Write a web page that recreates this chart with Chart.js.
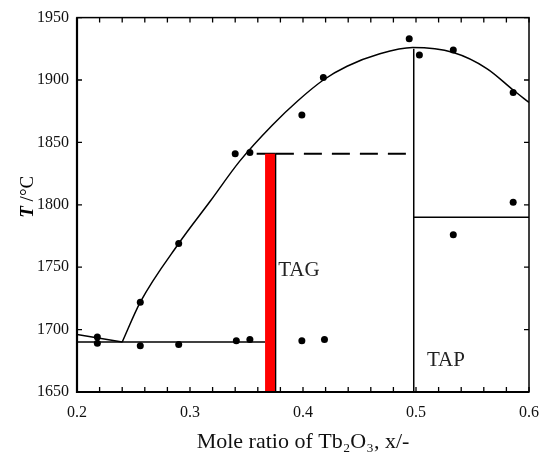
<!DOCTYPE html>
<html>
<head>
<meta charset="utf-8">
<script src="https://cdn.jsdelivr.net/npm/chart.js@4/dist/chart.umd.min.js"></script>
<style>
  html, body { margin: 0; padding: 0; background: #fff; }
  canvas { display: block; }
</style>
</head>
<body>
<canvas id="phaseChart" width="541" height="463"></canvas>
<script>
// axis ticks
const xTickValues = [0.2, 0.3, 0.4, 0.5, 0.6];
const xMinorTicks = [0.22, 0.24, 0.26, 0.28, 0.32, 0.34, 0.36, 0.38, 0.42, 0.44, 0.46, 0.48, 0.52, 0.54, 0.56, 0.58];
const yTickValues = [1650, 1700, 1750, 1800, 1850, 1900, 1950];

// measured points (mole ratio, T)
const pointX = [0.218, 0.218, 0.256, 0.256, 0.29, 0.29, 0.34, 0.353, 0.341, 0.353, 0.399, 0.418, 0.399, 0.419, 0.494, 0.503, 0.533, 0.533, 0.586, 0.586];
const pointT = [1694, 1689, 1722, 1687, 1769, 1688, 1841, 1842, 1691, 1692, 1872, 1902, 1691, 1692, 1933, 1920, 1924, 1776, 1890, 1802];

// liquidus curve
const liquidusX = [0.24, 0.256, 0.29, 0.318, 0.344, 0.373, 0.395, 0.418, 0.439, 0.468, 0.497, 0.533, 0.563, 0.586, 0.6];
const liquidusT = [1690, 1722, 1769, 1803, 1835, 1864, 1883, 1900, 1911, 1921, 1926, 1922, 1909, 1892, 1882];

// other phase boundaries
const eutecticX = [0.2, 0.24];
const eutecticT = [1696, 1690];
const solidusX = [0.2, 0.3664];
const solidusT = [1690, 1690];
const peritecticX = [0.359, 0.376];
const peritecticDashX = [0.376, 0.498];
const peritecticT = 1841;
const tapX = 0.498;
const tapTop = 1925;
const tapLineX = [0.498, 0.6];
const tapLineT = [1790, 1790];
const tagBarX = [0.3664, 0.3752];
const tagEdgeX = 0.3755;
const tMin = 1650;

const regionLabels = [
  { text: "TAG", x: 0.378, y: 1747 },
  { text: "TAP", x: 0.5097, y: 1675 }
];

function pts(xs, ys) {
  return xs.map((x, i) => ({ x: x, y: Array.isArray(ys) ? ys[i] : ys }));
}

function lineSet(data, extra) {
  return Object.assign({
    data: data,
    showLine: true,
    borderColor: "#000",
    borderWidth: 1.5,
    pointRadius: 0,
    fill: false,
    tension: 0
  }, extra || {});
}

const serif = "'Liberation Serif', 'Times New Roman', serif";

// frame, inward ticks, region labels, y title
const decorations = {
  id: "decorations",
  afterDatasetsDraw(chart) {
    const { ctx, chartArea: a, scales } = chart;
    const xs = scales.x, ys = scales.y;
    ctx.save();
    ctx.strokeStyle = "#000";
    ctx.lineWidth = 1.5;
    ctx.strokeRect(a.left, a.top, a.right - a.left, a.bottom - a.top);
    ctx.lineWidth = 2.2;
    ctx.beginPath();
    ctx.moveTo(a.left, a.top);
    ctx.lineTo(a.left, a.bottom);
    ctx.lineTo(a.right, a.bottom);
    ctx.stroke();

    ctx.lineWidth = 1.3;
    ctx.beginPath();
    xTickValues.concat(xMinorTicks).forEach(v => {
      const px = xs.getPixelForValue(v);
      ctx.moveTo(px, a.bottom); ctx.lineTo(px, a.bottom - 5);
      ctx.moveTo(px, a.top); ctx.lineTo(px, a.top + 5);
    });
    yTickValues.forEach(v => {
      const py = ys.getPixelForValue(v);
      ctx.moveTo(a.left, py); ctx.lineTo(a.left + 5, py);
      ctx.moveTo(a.right, py); ctx.lineTo(a.right - 5, py);
    });
    ctx.stroke();

    ctx.fillStyle = "#222";
    ctx.font = "21px " + serif;
    ctx.textBaseline = "middle";
    ctx.textAlign = "left";
    regionLabels.forEach(l => {
      ctx.fillText(l.text, xs.getPixelForValue(l.x), ys.getPixelForValue(l.y));
    });

    // y title: bold italic T, then " /°C"
    ctx.translate(28, (a.top + a.bottom) / 2 - 8);
    ctx.rotate(-Math.PI / 2);
    ctx.fillStyle = "#000";
    ctx.font = "bold italic 19px " + serif;
    const wT = ctx.measureText("T").width;
    ctx.font = "19px " + serif;
    const wRest = ctx.measureText(" /°C").width;
    let start = -(wT + wRest) / 2;
    ctx.font = "bold italic 19px " + serif;
    ctx.fillText("T", start, 0);
    ctx.font = "19px " + serif;
    ctx.fillText(" /°C", start + wT, 0);
    ctx.restore();
  }
};

new Chart(document.getElementById("phaseChart").getContext("2d"), {
  type: "scatter",
  data: {
    datasets: [
      lineSet([{ x: tagBarX[0], y: peritecticT }, { x: tagBarX[1], y: peritecticT }], {
        borderWidth: 0, borderColor: "rgba(0,0,0,0)", backgroundColor: "#ff0000", fill: "start"
      }),
      lineSet(pts([tagEdgeX, tagEdgeX], [tMin, peritecticT]), { borderWidth: 2 }),
      lineSet(pts(liquidusX, liquidusT), { cubicInterpolationMode: "monotone" }),
      lineSet(pts(eutecticX, eutecticT)),
      lineSet(pts(solidusX, solidusT)),
      lineSet(pts(peritecticX, peritecticT), { borderWidth: 2 }),
      lineSet(pts(peritecticDashX, peritecticT), { borderDash: [18, 10], borderWidth: 2 }),
      lineSet(pts([tapX, tapX], [tMin, tapTop])),
      lineSet(pts(tapLineX, tapLineT)),
      {
        data: pts(pointX, pointT),
        pointRadius: 3.5,
        pointBackgroundColor: "#000",
        pointBorderWidth: 0,
        showLine: false
      }
    ]
  },
  options: {
    responsive: false,
    animation: false,
    devicePixelRatio: 1,
    layout: { padding: { top: 14, right: 0, left: 0, bottom: 0 } },
    plugins: { legend: { display: false }, tooltip: { enabled: false } },
    scales: {
      x: {
        type: "linear",
        min: 0.2,
        max: 0.6,
        afterBuildTicks: s => { s.ticks = xTickValues.map(v => ({ value: v })); },
        afterFit: s => { s.height = 71; s.paddingLeft = 0; s.paddingRight = 12; },
        grid: { display: false, drawTicks: false },
        border: { display: false },
        ticks: {
          padding: 11,
          color: "#111",
          font: { family: serif, size: 16 },
          callback: v => v.toFixed(1)
        },
        title: {
          display: true,
          text: "Mole ratio of Tb₂O₃, x/-",
          color: "#111",
          font: { family: serif, size: 22 },
          padding: { top: 0, bottom: 8 }
        }
      },
      y: {
        type: "linear",
        min: 1650,
        max: 1950,
        afterBuildTicks: s => { s.ticks = yTickValues.map(v => ({ value: v })); },
        afterFit: s => { s.width = 77; },
        grid: { display: false, drawTicks: false },
        border: { display: false },
        ticks: {
          padding: 8,
          color: "#111",
          font: { family: serif, size: 16 },
          callback: v => String(v)
        }
      }
    }
  },
  plugins: [decorations]
});
</script>
</body>
</html>
